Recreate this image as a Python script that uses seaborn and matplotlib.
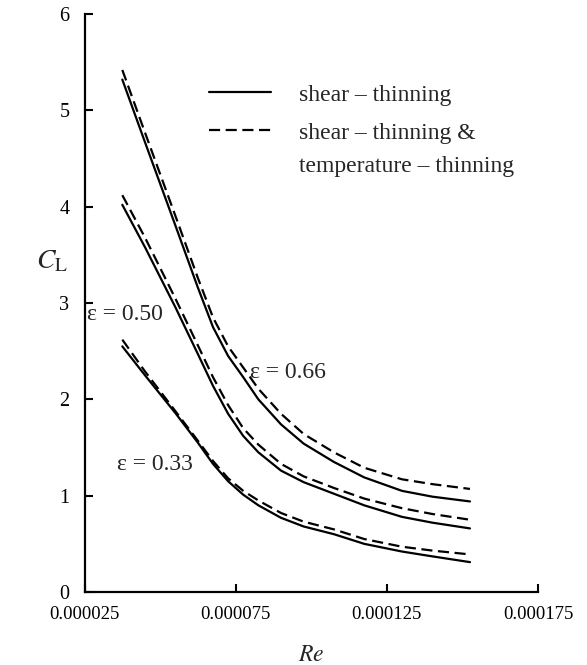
import numpy as np
import pandas as pd
import matplotlib
matplotlib.use("Agg")
import matplotlib.pyplot as plt
import seaborn as sns
from matplotlib.ticker import FixedLocator
from matplotlib.lines import Line2D

# ---- data (Re in units of 1e-6) ----
re_vals = [37.5, 45, 55, 62.5, 67.5, 72.5, 77.5, 82.5, 90, 97.5, 107.5, 117.5, 130, 140, 152.5]

cl_066_shear = [5.32, 4.67, 3.81, 3.16, 2.75, 2.45, 2.23, 2.00, 1.74, 1.54, 1.35, 1.19, 1.05, 0.99, 0.94]
cl_066_temp = [5.42, 4.77, 3.91, 3.26, 2.85, 2.55, 2.33, 2.11, 1.85, 1.64, 1.45, 1.29, 1.17, 1.12, 1.07]
cl_050_shear = [4.02, 3.58, 2.96, 2.47, 2.14, 1.85, 1.62, 1.45, 1.26, 1.14, 1.02, 0.90, 0.78, 0.72, 0.66]
cl_050_temp = [4.12, 3.68, 3.05, 2.56, 2.23, 1.94, 1.70, 1.53, 1.33, 1.20, 1.08, 0.97, 0.87, 0.81, 0.75]
cl_033_shear = [2.55, 2.25, 1.86, 1.55, 1.33, 1.15, 1.01, 0.90, 0.77, 0.68, 0.60, 0.50, 0.42, 0.37, 0.31]
cl_033_temp = [2.62, 2.29, 1.88, 1.57, 1.36, 1.18, 1.05, 0.95, 0.82, 0.73, 0.65, 0.55, 0.47, 0.43, 0.39]

models = ["shear \u2013 thinning", "shear \u2013 thinning &"]
eps_labels = ["\u03b5 = 0.66", "\u03b5 = 0.50", "\u03b5 = 0.33"]
x_ticks = [0.000025, 0.000075, 0.000125, 0.000175]
x_tick_labels = ["0.000025", "0.000075", "0.000125", "0.000175"]
y_ticks = [0, 1, 2, 3, 4, 5, 6]

rows = []
series = {
    ("0.66", models[0]): cl_066_shear,
    ("0.66", models[1]): cl_066_temp,
    ("0.50", models[0]): cl_050_shear,
    ("0.50", models[1]): cl_050_temp,
    ("0.33", models[0]): cl_033_shear,
    ("0.33", models[1]): cl_033_temp,
}
for (eps, model), vals in series.items():
    for r, v in zip(re_vals, vals):
        rows.append({"Re": r * 1e-6, "CL": v, "eps": eps, "model": model})
df = pd.DataFrame(rows)

# ---- style ----
sns.set_style("ticks")
plt.rcParams["font.family"] = ["Liberation Serif", "DejaVu Serif"]
plt.rcParams["mathtext.fontset"] = "stix"
plt.rcParams["xtick.direction"] = "in"
plt.rcParams["ytick.direction"] = "in"

fig = plt.figure(figsize=(5.87, 6.65), dpi=100)
ax = fig.add_axes([0.144, 0.1098, 0.7725, 0.869])

sns.lineplot(data=df, x="Re", y="CL", units="eps", style="model",
             estimator=None, sort=False, color="black", linewidth=1.6,
             dashes={models[0]: "", models[1]: (5, 2.5)}, legend=False, ax=ax)

ax.set_xlim(0.000025, 0.000175)
ax.set_ylim(0, 6)
ax.xaxis.set_major_locator(FixedLocator(x_ticks))
ax.set_xticklabels(x_tick_labels)
ax.yaxis.set_major_locator(FixedLocator(y_ticks))
ax.set_yticklabels([str(t) for t in y_ticks])
ax.tick_params(axis="both", length=6, width=1.5, colors="black")
ax.tick_params(axis="x", labelsize=13.5, pad=10)
ax.tick_params(axis="y", labelsize=14.5, pad=11)
for s in ["top", "right"]:
    ax.spines[s].set_visible(False)
for s in ["left", "bottom"]:
    ax.spines[s].set_linewidth(1.6)
    ax.spines[s].set_color("black")

ax.set_xlabel("$Re$", fontsize=17, labelpad=16)
ax.set_ylabel(r"$C_{\mathrm{L}}$", fontsize=20, rotation=0, va="center", ha="center")
ax.yaxis.set_label_coords(-0.072, 0.571)

# curve annotations
ax.text(0.0000258, 2.88, eps_labels[1], fontsize=17, va="center", ha="left")
ax.text(0.0000797, 2.28, eps_labels[0], fontsize=17, va="center", ha="left")
ax.text(0.0000357, 1.32, eps_labels[2], fontsize=17, va="center", ha="left")

# legend
handles = [Line2D([], [], color="black", lw=1.6),
           Line2D([], [], color="black", lw=1.6, dashes=(5, 2.5))]
leg = ax.legend(handles, models, loc="upper left", bbox_to_anchor=(0.275, 0.879),
                frameon=False, fontsize=17, handlelength=2.6, handletextpad=1.2,
                labelspacing=0.7, borderpad=0, borderaxespad=0)
ax.text(0.474, 0.737, "temperature \u2013 thinning", transform=ax.transAxes,
        fontsize=17, va="center", ha="left")

fig.savefig("out.png", dpi=100)
